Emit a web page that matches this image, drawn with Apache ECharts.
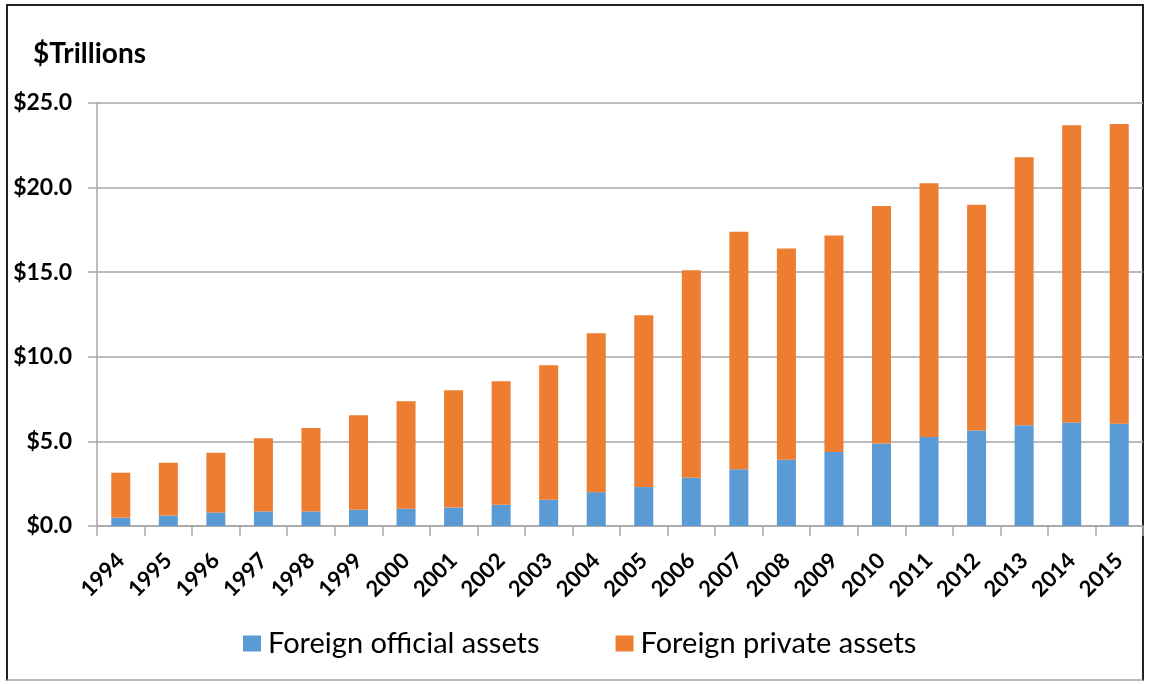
<!DOCTYPE html>
<html>
<head>
<meta charset="utf-8">
<script src="https://cdn.jsdelivr.net/npm/echarts@6/dist/echarts.min.js"></script>
<style>
  html, body { margin: 0; padding: 0; background: #fff; }
  #frame {
    position: absolute; left: 6px; top: 4px; width: 1138px; height: 677px;
    border: 2px solid #222; border-bottom-color: #bbb; box-sizing: border-box;
  }
  #chart { position: absolute; left: 0; top: 0; width: 1151px; height: 684px; }
</style>
</head>
<body>
<div id="frame"></div>
<div id="chart"></div>
<script>
const years = ['1994', '1995', '1996', '1997', '1998', '1999', '2000', '2001', '2002', '2003', '2004',
  '2005', '2006', '2007', '2008', '2009', '2010', '2011', '2012', '2013', '2014', '2015'];

// $ trillions
const officialAssets = [0.49, 0.62, 0.80, 0.86, 0.86, 0.96, 1.02, 1.09, 1.25, 1.55, 2.00,
  2.30, 2.85, 3.36, 3.92, 4.37, 4.88, 5.26, 5.65, 5.95, 6.11, 6.05];
const totalAssets = [3.15, 3.74, 4.33, 5.18, 5.79, 6.54, 7.37, 8.02, 8.55, 9.50, 11.39,
  12.46, 15.12, 17.39, 16.40, 17.17, 18.91, 20.25, 18.98, 21.79, 23.68, 23.76];
const privateAssets = totalAssets.map((t, i) => +(t - officialAssets[i]).toFixed(2));

const yTicks = [0, 5, 10, 15, 20, 25];

const font = 'Lato, "Open Sans", sans-serif';
const gray = '#a6a6a6';

const chart = echarts.init(document.getElementById('chart'));

const option = {
  animation: false,
  textStyle: { fontFamily: font },
  title: {
    text: '$Trillions',
    left: 28,
    top: 35,
    textStyle: { fontFamily: font, fontSize: 28, fontWeight: 'bold', color: '#000' }
  },
  legend: {
    data: ['Foreign official assets', 'Foreign private assets'],
    left: 238,
    top: 624,
    icon: 'rect',
    itemWidth: 18,
    itemHeight: 16,
    itemGap: 76,
    textStyle: { fontFamily: font, fontSize: 29, color: '#000', padding: [0, 0, 0, 2] }
  },
  grid: {
    left: 97,
    right: 8,
    top: 103,
    bottom: 158
  },
  xAxis: {
    type: 'category',
    data: years,
    axisLine: { lineStyle: { color: gray, width: 1.5 } },
    axisTick: { show: true, length: 10, lineStyle: { color: gray, width: 1.5 } },
    axisLabel: {
      rotate: 45,
      margin: 31,
      color: '#000',
      fontSize: 22,
      fontWeight: 'bold',
      fontFamily: font
    }
  },
  yAxis: {
    type: 'value',
    min: 0,
    max: 25,
    interval: 5,
    axisLine: { show: true, lineStyle: { color: gray, width: 1.5 } },
    axisTick: { show: true, length: 9, lineStyle: { color: gray, width: 1.5 } },
    splitLine: { lineStyle: { color: gray, width: 1.5 } },
    axisLabel: {
      margin: 25,
      color: '#000',
      fontSize: 23,
      fontWeight: 'bold',
      fontFamily: font,
      formatter: v => yTicks.includes(v) ? '$' + v.toFixed(1) : ''
    }
  },
  series: [
    {
      name: 'Foreign official assets',
      type: 'bar',
      stack: 'total',
      barWidth: '40%',
      itemStyle: { color: '#5b9bd5' },
      data: officialAssets
    },
    {
      name: 'Foreign private assets',
      type: 'bar',
      stack: 'total',
      barWidth: '40%',
      itemStyle: { color: '#ed7d31' },
      data: privateAssets
    }
  ]
};

chart.setOption(option);
</script>
</body>
</html>
